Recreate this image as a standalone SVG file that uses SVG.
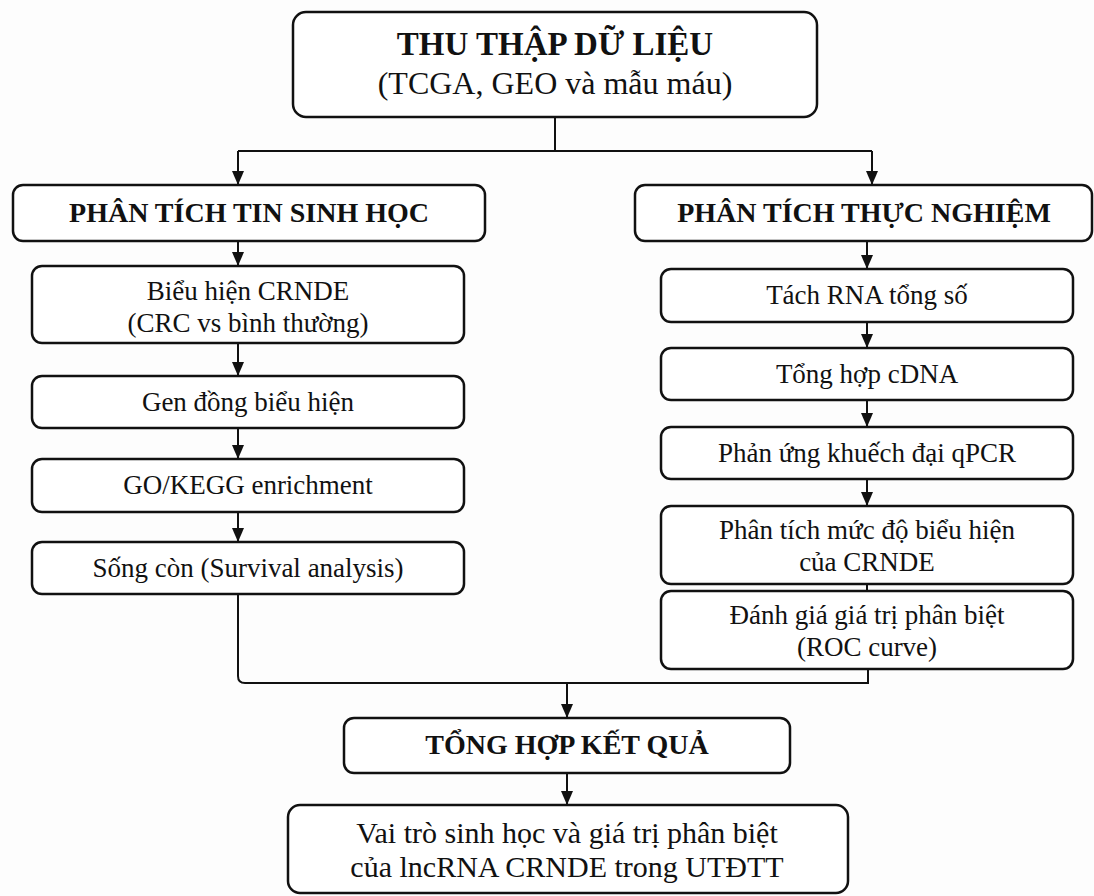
<svg xmlns="http://www.w3.org/2000/svg" width="1094" height="896" viewBox="0 0 1094 896">
<style>
.box{fill:#fff;stroke:#111;stroke-width:2.5}
.t{font-family:"Liberation Serif","Times New Roman",serif;fill:#111;text-anchor:middle}
.b{font-weight:bold}
.n{font-size:27px}
.h{font-size:28px}
.c{fill:none;stroke:#111;stroke-width:2}
</style>
<defs>
<marker id="ah" markerUnits="userSpaceOnUse" markerWidth="14" markerHeight="12" viewBox="0 0 14 12" refX="14" refY="6" orient="auto">
<path d="M0,0 L14,6 L0,12 z" fill="#111"/>
</marker>
</defs>
<rect width="1094" height="896" fill="#fdfdfd"/>
<g id="connectors">
<path class="c" d="M555,117 V151"/>
<path class="c" d="M238,151 H872"/>
<path class="c" d="M238,151 V185" marker-end="url(#ah)"/>
<path class="c" d="M872,151 V185" marker-end="url(#ah)"/>
<path class="c" d="M238,241 V266" marker-end="url(#ah)"/>
<path class="c" d="M238,343 V376" marker-end="url(#ah)"/>
<path class="c" d="M238,428 V459" marker-end="url(#ah)"/>
<path class="c" d="M238,512 V542" marker-end="url(#ah)"/>
<path class="c" d="M867,241 V269" marker-end="url(#ah)"/>
<path class="c" d="M867,322 V348" marker-end="url(#ah)"/>
<path class="c" d="M867,400 V427" marker-end="url(#ah)"/>
<path class="c" d="M867,479 V506" marker-end="url(#ah)"/>
<path class="c" d="M867,584 V591"/>
<path class="c" d="M238,594 V676 Q238,683 245,683 H868 V669"/>
<path class="c" d="M567,683 V718" marker-end="url(#ah)"/>
<path class="c" d="M567,773 V805" marker-end="url(#ah)"/>
</g>
<g id="n-top">
<rect class="box" x="293" y="12" width="524" height="105" rx="13"/>
<text class="t b" x="555" y="55" font-size="33">THU THẬP DỮ LIỆU</text>
<text class="t" x="555" y="94" font-size="32">(TCGA, GEO và mẫu máu)</text>
</g>
<g id="n-left-header">
<rect class="box" x="13" y="185" width="472" height="56" rx="10"/>
<text class="t b h" x="249" y="222">PHÂN TÍCH TIN SINH HỌC</text>
</g>
<g id="n-right-header">
<rect class="box" x="635" y="185" width="457" height="56" rx="10"/>
<text class="t b h" x="864" y="222">PHÂN TÍCH THỰC NGHIỆM</text>
</g>
<g id="n-l1">
<rect class="box" x="32" y="266" width="432" height="77" rx="10"/>
<text class="t n" x="248" y="300">Biểu hiện CRNDE</text>
<text class="t n" x="248" y="332">(CRC vs bình thường)</text>
</g>
<g id="n-l2">
<rect class="box" x="32" y="376" width="432" height="52" rx="10"/>
<text class="t n" x="248" y="411">Gen đồng biểu hiện</text>
</g>
<g id="n-l3">
<rect class="box" x="32" y="459" width="432" height="53" rx="10"/>
<text class="t n" x="248" y="494">GO/KEGG enrichment</text>
</g>
<g id="n-l4">
<rect class="box" x="32" y="542" width="432" height="52" rx="10"/>
<text class="t n" x="248" y="577">Sống còn (Survival analysis)</text>
</g>
<g id="n-r1">
<rect class="box" x="661" y="269" width="412" height="53" rx="10"/>
<text class="t n" x="867" y="304">Tách RNA tổng số</text>
</g>
<g id="n-r2">
<rect class="box" x="661" y="348" width="412" height="52" rx="10"/>
<text class="t n" x="867" y="383">Tổng hợp cDNA</text>
</g>
<g id="n-r3">
<rect class="box" x="661" y="427" width="412" height="52" rx="10"/>
<text class="t n" x="867" y="462">Phản ứng khuếch đại qPCR</text>
</g>
<g id="n-r4">
<rect class="box" x="661" y="506" width="412" height="78" rx="10"/>
<text class="t n" x="867" y="539">Phân tích mức độ biểu hiện</text>
<text class="t n" x="867" y="571">của CRNDE</text>
</g>
<g id="n-r5">
<rect class="box" x="661" y="591" width="412" height="78" rx="10"/>
<text class="t n" x="867" y="624">Đánh giá giá trị phân biệt</text>
<text class="t n" x="867" y="656">(ROC curve)</text>
</g>
<g id="n-sum">
<rect class="box" x="344" y="718" width="446" height="55" rx="10"/>
<text class="t b h" x="567" y="754">TỔNG HỢP KẾT QUẢ</text>
</g>
<g id="n-final">
<rect class="box" x="288" y="805" width="560" height="88" rx="12"/>
<text class="t" x="567" y="843" font-size="30">Vai trò sinh học và giá trị phân biệt</text>
<text class="t" x="567" y="877" font-size="30">của lncRNA CRNDE trong UTĐTT</text>
</g>
</svg>
